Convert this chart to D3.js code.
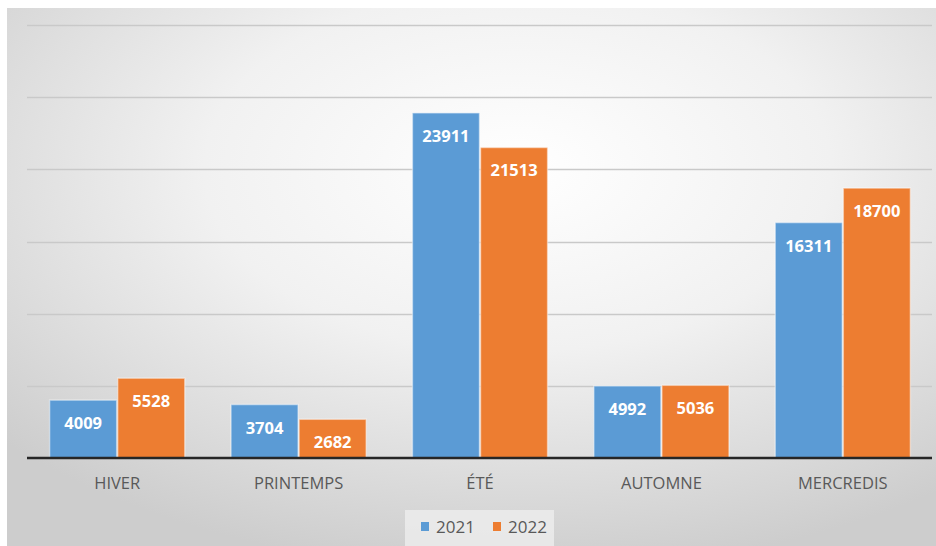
<!DOCTYPE html>
<html><head><meta charset="utf-8">
<script src="https://cdn.jsdelivr.net/npm/d3@7"></script>
<style>html,body{margin:0;padding:0;background:#fff;}svg{display:block;}</style>
</head><body>
<script>
const categories = ["HIVER", "PRINTEMPS", "ÉTÉ", "AUTOMNE", "MERCREDIS"];
const seriesNames = ["2021", "2022"];
const values2021 = [4009, 3704, 23911, 4992, 16311];
const values2022 = [5528, 2682, 21513, 5036, 18700];
const gridTicks = [0, 5000, 10000, 15000, 20000, 25000, 30000];
const colors = ["#5b9bd5", "#ed7d31"];

const W = 936, H = 546;
const FONT = "'Open Sans', 'Liberation Sans', sans-serif";
const svg = d3.select("body").append("svg").attr("width", W).attr("height", H);
const defs = svg.append("defs");
const grad = defs.append("radialGradient").attr("id", "bg")
  .attr("cx", "55%").attr("cy", "30%").attr("r", "75%");
grad.append("stop").attr("offset", "0%").attr("stop-color", "#ffffff");
grad.append("stop").attr("offset", "45%").attr("stop-color", "#f1f1f1");
grad.append("stop").attr("offset", "100%").attr("stop-color", "#cdcdcd");

svg.append("rect").attr("x", 7).attr("y", 8).attr("width", W - 7).attr("height", H - 8).attr("fill", "url(#bg)");

const x0 = d3.scaleBand().domain(categories).range([26.5, 933.5]).paddingInner(0.255).paddingOuter(0.1275);
const x1 = d3.scaleBand().domain(seriesNames).range([0, x0.bandwidth()]).paddingInner(0.015);
const y = d3.scaleLinear().domain([0, 30000]).range([458, 25]);

// gridlines
svg.append("g").selectAll("line").data(gridTicks.filter(d => d > 0)).join("line")
  .attr("x1", 27).attr("x2", 932)
  .attr("y1", d => Math.round(y(d)) + 0.5).attr("y2", d => Math.round(y(d)) + 0.5)
  .attr("stroke", "#c9c9c9").attr("stroke-width", 1.5);

const data = categories.map((c, i) => ({cat: c, vals: [values2021[i], values2022[i]]}));

const g = svg.append("g").selectAll("g").data(data).join("g")
  .attr("transform", d => `translate(${x0(d.cat)},0)`);

g.selectAll("rect").data(d => d.vals.map((v, j) => ({s: seriesNames[j], v, j}))).join("rect")
  .attr("x", d => x1(d.s)).attr("width", x1.bandwidth())
  .attr("y", d => y(d.v)).attr("height", d => y(0) - y(d.v))
  .attr("fill", d => colors[d.j])
  .attr("stroke", "rgba(255,255,255,0.45)").attr("stroke-width", 1.5);

g.selectAll("text").data(d => d.vals.map((v, j) => ({s: seriesNames[j], v, j}))).join("text")
  .attr("x", d => x1(d.s) + x1.bandwidth() / 2)
  .attr("y", d => y(d.v) + 29)
  .attr("text-anchor", "middle")
  .attr("fill", "#ffffff")
  .attr("font-family", FONT)
  .attr("font-weight", "bold").attr("font-size", 16.5)
  .text(d => d.v);

// baseline axis
svg.append("line").attr("x1", 27).attr("x2", 932).attr("y1", y(0)).attr("y2", y(0))
  .attr("stroke", "#262626").attr("stroke-width", 2.5);

const xAxis = svg.append("g").attr("transform", `translate(0,${y(0)})`)
  .call(d3.axisBottom(x0).tickSize(0).tickPadding(19));
xAxis.select(".domain").remove();
xAxis.selectAll("text").attr("font-family", FONT)
  .attr("font-size", 16.5).attr("fill", "#595959");

// legend
const lg = svg.append("g");
lg.append("rect").attr("x", 405).attr("y", 510).attr("width", 149).attr("height", 36)
  .attr("fill", "#ededed").attr("opacity", 0.8);
const legX = [421, 493];
seriesNames.forEach((s, i) => {
  lg.append("rect").attr("x", legX[i]).attr("y", 522).attr("width", 8).attr("height", 9).attr("fill", colors[i]);
  lg.append("text").attr("x", legX[i] + 15).attr("y", 533)
    .attr("font-family", FONT)
    .attr("font-size", 17).attr("fill", "#595959").text(s);
});
</script>
</body></html>
